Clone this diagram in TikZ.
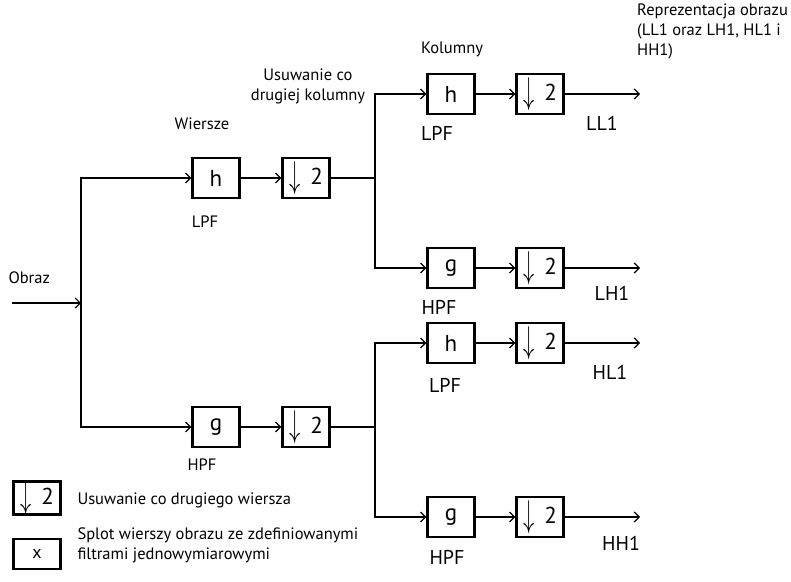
\documentclass[tikz,border=0pt]{standalone}
\usepackage{fontspec}
\setmainfont{PT Sans}
\usetikzlibrary{arrows.meta}

\newcommand{\downtwo}{\raisebox{-3pt}{\scalebox{0.9}[1.5]{$\downarrow$}}\hspace{10pt}2}

\begin{document}
\begin{tikzpicture}[x=1pt, y=-1pt, >={Straight Barb[length=5pt,width=10pt]},
  every node/.style={font=\fontsize{16.5}{20}\selectfont},
  filt/.style={draw, line width=2.2pt, minimum width=47pt, minimum height=40pt,
    inner sep=0pt, font=\fontsize{23}{26}\selectfont},
  legbox/.style={filt, minimum height=30pt},
  big/.style={font=\fontsize{20}{23}\selectfont},
  line/.style={line width=1.2pt}]
  \useasboundingbox (0,0) rectangle (791,581);
  % Input
  \coordinate (in) at (12,303);
  \coordinate (split) at (81,303);
  \node[anchor=west] (obraz) at (5,278) {Obraz};
  \draw[line,->] (in) -- (split);
  % Rows: filters and downsampling
  \node (wiersze) at (202,124) {Wiersze};
  \node[filt] (h1) at (216,178) {h};
  \node[filt] (g1) at (216,427) {g};
  \node[filt] (d1) at (306,178) {\downtwo};
  \node[filt] (d2) at (306,427) {\downtwo};
  \node (lpf1) at (205,222) {LPF};
  \node (hpf1) at (202,465) {HPF};
  \draw[line,->] (split) |- (h1.west);
  \draw[line,->] (split) |- (g1.west);
  \draw[line,->] (h1) -- (d1);
  \draw[line,->] (g1) -- (d2);
  % Junctions
  \coordinate (j1) at (375,178);
  \coordinate (j2) at (375,427);
  \draw[line] (d1.east) -- (j1);
  \draw[line] (d2.east) -- (j2);
  \node[align=center] (usukol) at (308,86) {Usuwanie co\\drugiej kolumny};
  \node (kolumny) at (452,49) {Kolumny};
  % Columns: filters, downsampling and outputs
  \foreach \n/\f/\y/\j/\lab/\lx/\ly/\o/\ox/\oy in
    {1/h/94/j1/LPF/437/133/LL1/602/123, 2/g/268/j1/HPF/439/307/LH1/612/293,
     3/h/343/j2/LPF/445/385/HL1/610/372, 4/g/517/j2/HPF/447/557/HH1/621/543}{
    \node[filt] (c\n) at (451,\y) {\f};
    \node[filt] (cd\n) at (540,\y) {\downtwo};
    \coordinate (e\n) at (640,\y);
    \draw[line,->] (\j) |- (c\n.west);
    \draw[line,->] (c\n) -- (cd\n);
    \draw[line,->] (cd\n) -- (e\n);
    \node[big] (cl\n) at (\lx,\ly) {\lab};
    \node[big] (co\n) at (\ox,\oy) {\o};
  }
  \node[anchor=north west, align=left, inner sep=0pt] (repr) at (637,4)
    {Reprezentacja obrazu\\(LL1 oraz LH1, HL1 i\\HH1)};
  % Legend
  \node[legbox] (legd) at (37,498) {\downtwo};
  \node[legbox, font=\fontsize{18}{20}\selectfont] (legx) at (37,554) {x};
  \node[anchor=west] (legdt) at (74,500) {Usuwanie co drugiego wiersza};
  \node[anchor=west, align=left] (legxt) at (74,545)
    {Splot wierszy obrazu ze zdefiniowanymi\\filtrami jednowymiarowymi};
\end{tikzpicture}
\end{document}
